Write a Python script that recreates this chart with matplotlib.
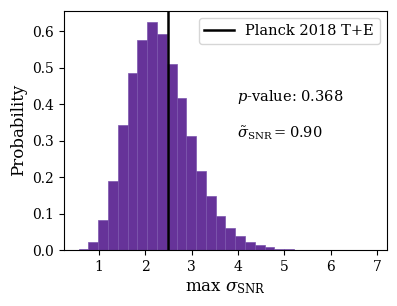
import matplotlib
matplotlib.use('Agg')
import matplotlib.pyplot as plt
import numpy as np

plt.rcParams['font.family'] = 'DejaVu Serif'
plt.rcParams['mathtext.fontset'] = 'dejavuserif'

# histogram of max sigma_SNR (density), 30 bins
x_min = 0.561
x_max = 6.903
n_bins = 30
heights = [0.002, 0.023, 0.081, 0.189, 0.344, 0.486, 0.576, 0.625, 0.592, 0.511,
           0.417, 0.312, 0.216, 0.149, 0.094, 0.061, 0.038, 0.021, 0.013, 0.0073,
           0.0036, 0.002, 0.001, 0.0005, 0.0003, 0.0002, 0.0001, 0.0, 0.0, 0.0001]
planck_value = 2.49
p_value = 0.368
sigma_tilde = 0.90

edges = np.linspace(x_min, x_max, n_bins + 1)
centers = 0.5 * (edges[:-1] + edges[1:])

fig = plt.figure(figsize=(3.97, 3.06), dpi=100)
ax = fig.add_axes([0.161, 0.183, 0.814, 0.782])

ax.hist(centers, bins=edges, weights=heights, color='#663399',
        edgecolor='#7b55ad', linewidth=0.5)
ax.axvline(planck_value, color='k', linewidth=1.8, label='Planck 2018 T+E')

ax.text(0.535, 0.64, r'$p$-value: %.3f' % p_value, transform=ax.transAxes,
        fontsize=10.5, va='center', ha='left')
ax.text(0.535, 0.49, r'$\tilde{\sigma}_{\rm SNR} = %.2f$' % sigma_tilde,
        transform=ax.transAxes, fontsize=10.5, va='center', ha='left')

ax.set_xlabel(r'max $\sigma_{\rm SNR}$', fontsize=12)
ax.set_ylabel('Probability', fontsize=12)
ax.set_xticks([1, 2, 3, 4, 5, 6, 7])
ax.legend(loc='upper right', fontsize=10.5)

fig.savefig('out.png', dpi=100)
